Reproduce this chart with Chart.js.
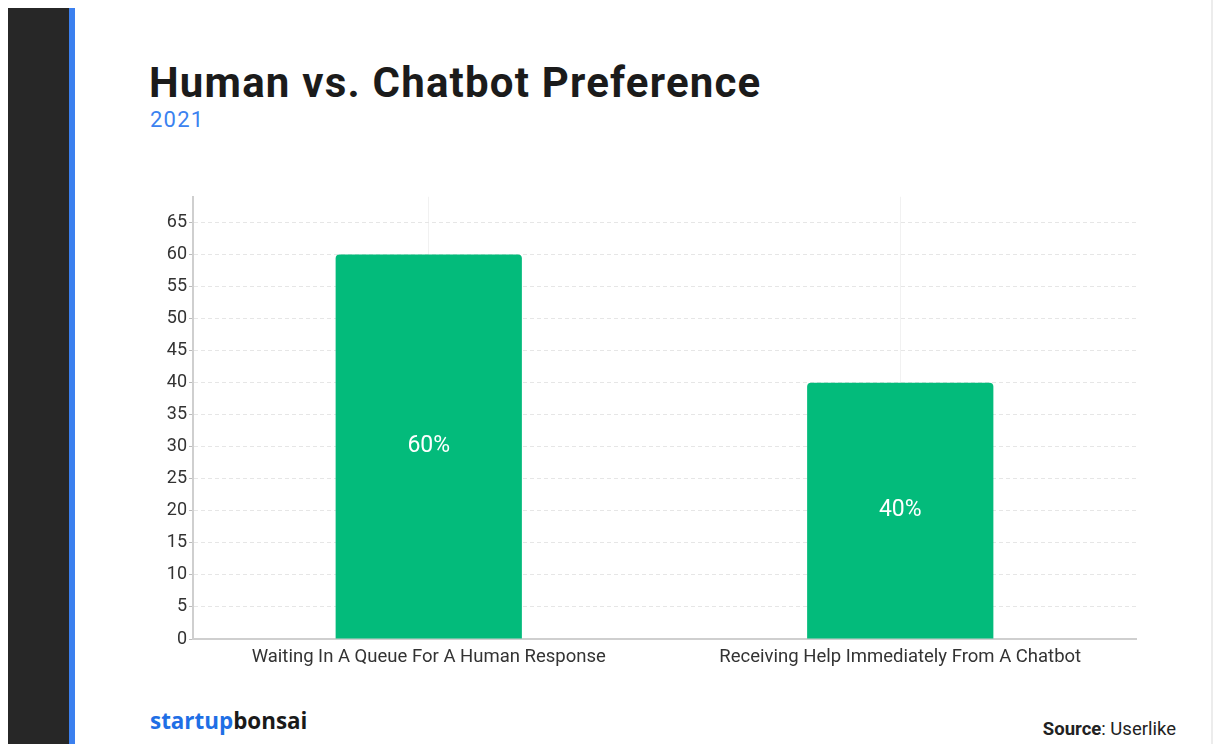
<!DOCTYPE html>
<html>
<head>
<meta charset="utf-8">
<title>Human vs. Chatbot Preference</title>
<script src="https://cdn.jsdelivr.net/npm/chart.js@4"></script>
<style>
  html, body { margin: 0; padding: 0; background: #fff; }
  body { width: 1218px; height: 744px; position: relative; overflow: hidden; font-family: Roboto, sans-serif; }
  .side { position: absolute; left: 8px; top: 8px; width: 61px; bottom: 0; background: #272727; }
  .stripe { position: absolute; left: 69px; top: 8px; width: 6px; bottom: 0; background: #3b80ef; }
  .edge { position: absolute; left: 1211px; top: 0; width: 2px; bottom: 0; background: #ececec; }
  .title { position: absolute; left: 149px; top: 58px; font-size: 42px; font-weight: 700; color: #1b1b1b; letter-spacing: 1.2px; }
  .year { position: absolute; left: 150px; top: 107px; font-size: 22px; color: #3b82f0; letter-spacing: 1.2px; }
  .brand { position: absolute; left: 150px; top: 705px; font-family: "Open Sans", sans-serif; font-size: 22.4px; font-weight: 700; color: #1a1a1a; }
  .brand span { color: #1f6fe5; }
  .source { position: absolute; right: 42px; top: 718px; font-size: 18.5px; color: #222; }
  .source b { font-weight: 700; }
  #wrap { position: absolute; left: 130px; top: 184px; width: 1030px; height: 496px; }
</style>
</head>
<body>
<div class="side"></div>
<div class="stripe"></div>
<div class="edge"></div>
<div class="title">Human vs. Chatbot Preference</div>
<div class="year">2021</div>
<div id="wrap"><canvas id="chart"></canvas></div>
<div class="brand"><span>startup</span>bonsai</div>
<div class="source"><b>Source</b>: Userlike</div>

<script>
const categories = ['Waiting In A Queue For A Human Response', 'Receiving Help Immediately From A Chatbot'];
const preference = [60, 40];
const barLabels = ['60%', '40%'];
const yTicks = [0, 5, 10, 15, 20, 25, 30, 35, 40, 45, 50, 55, 60, 65];

// writes the percentage in the middle of each bar
const barText = {
  id: 'barText',
  afterDatasetsDraw(chart) {
    const ctx = chart.ctx;
    const meta = chart.getDatasetMeta(0);
    ctx.save();
    ctx.fillStyle = '#ffffff';
    ctx.font = '23px Roboto';
    ctx.textAlign = 'center';
    ctx.textBaseline = 'middle';
    meta.data.forEach((bar, i) => {
      ctx.fillText(barLabels[i], bar.x, (bar.y + bar.base) / 2);
    });
    ctx.restore();
  }
};

new Chart(document.getElementById('chart'), {
  type: 'bar',
  data: {
    labels: categories,
    datasets: [{
      data: preference,
      backgroundColor: '#03bb7b',
      borderRadius: { topLeft: 4, topRight: 4 },
      borderSkipped: 'bottom',
      categoryPercentage: 1,
      barPercentage: 0.395
    }]
  },
  options: {
    responsive: true,
    maintainAspectRatio: false,
    animation: false,
    layout: { padding: { top: 0, right: 24, bottom: 0, left: 0 } },
    plugins: { legend: { display: false }, tooltip: { enabled: false } },
    scales: {
      x: {
        grid: { offset: false, color: '#f1f1f1', lineWidth: 1, drawTicks: false },
        border: { color: '#cfcfcf', width: 2 },
        ticks: { color: '#333', font: { family: 'Roboto', size: 18.5 }, padding: 7 },
        afterFit(scale) { scale.height = 41; }
      },
      y: {
        min: 0,
        max: 69,
        afterBuildTicks(scale) { scale.ticks = yTicks.map(v => ({ value: v })); },
        grid: { color: '#e6e6e6', lineWidth: 1, tickLength: 4, tickColor: '#bbb' },
        border: { color: '#cfcfcf', width: 2, dash: [4, 3] },
        ticks: { color: '#333', font: { family: 'Roboto', size: 18 }, padding: 2 },
        afterFit(scale) { scale.width = 63; }
      }
    }
  },
  plugins: [barText]
});
</script>
</body>
</html>
